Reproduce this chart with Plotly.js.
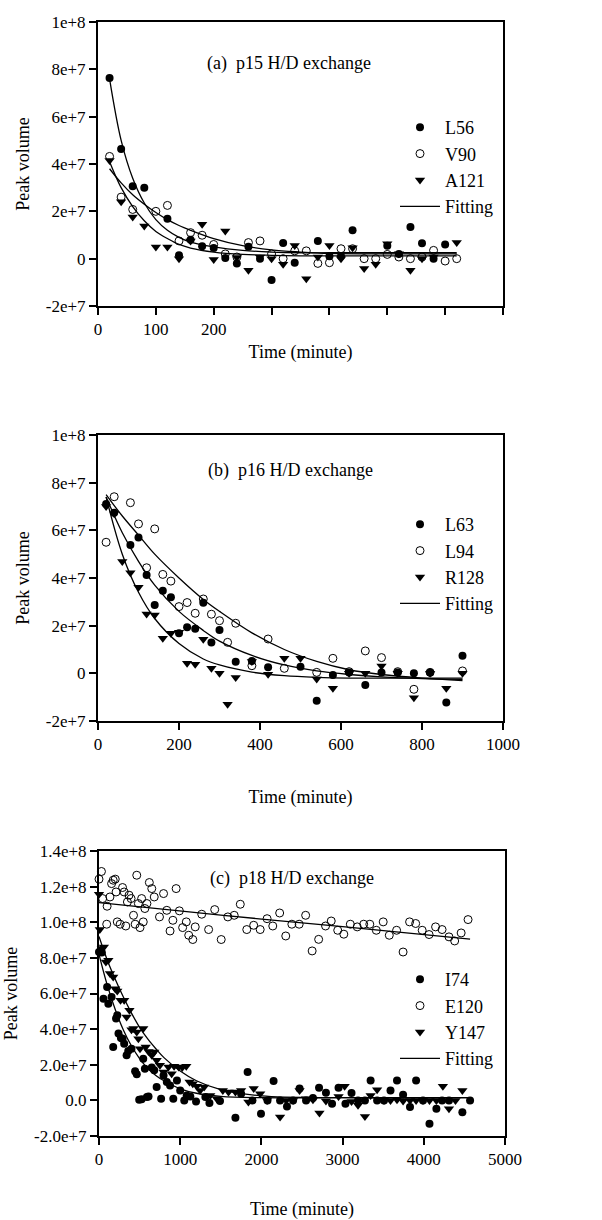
<!DOCTYPE html>
<html><head><meta charset="utf-8">
<script src="https://cdn.plot.ly/plotly-3.0.1.min.js"></script>
<style>body{margin:0;background:#fff}#chart{width:602px;height:1220px}</style>
</head><body><div id="chart"></div>
<script>
// ---- values in units of 1e7 (peak volume) ----
// Panel (a) p15
const timeA = [20,40,60,80,100,120,140,160,180,200,220,240,260,280,300,320,340,360,380,400,420,440,460,480,500,520,540,560,580,600,620];
const L56 = [7.63,4.63,3.06,3.0,null,1.69,0.14,0.8,0.52,0.45,0.03,-0.2,0.5,0.0,-0.9,0.66,-0.17,null,0.75,0.1,0.1,1.2,null,null,0.55,0.2,1.34,0.65,0.0,0.6,null];
const V90 = [4.32,2.6,2.08,null,2.0,2.25,0.75,1.1,0.99,0.6,0.2,0.07,0.68,0.75,0.2,0.0,0.33,0.33,-0.2,-0.17,0.42,0.42,0.0,0.0,0.18,0.07,0.0,0.07,0.35,-0.1,0.0];
const A121 = [4.15,2.4,1.76,1.38,0.49,0.49,0.0,0.75,1.45,-0.03,1.17,0.05,-0.49,0.07,0.0,-0.24,0.56,-0.85,0.07,0.56,0.0,0.46,-0.42,-0.24,0.63,0.21,-0.49,0.0,0.07,null,0.68];
const fitTimeA = [20,40,60,80,100,120,140,160,200,250,300,350,400,500,620];
const fitL56 = [7.6,5.0,3.4,2.35,1.65,1.2,0.9,0.7,0.5,0.35,0.28,0.25,0.25,0.25,0.25];
const fitV90 = [3.8,3.2,2.7,2.3,1.95,1.65,1.4,1.2,0.85,0.55,0.37,0.28,0.22,0.2,0.2];
const fitA121 = [4.1,3.0,2.2,1.6,1.15,0.85,0.6,0.45,0.28,0.18,0.14,0.12,0.12,0.12,0.12];

// Panel (b) p16
const timeB = [20,40,60,80,100,120,140,160,180,200,220,240,260,280,300,320,340,380,420,460,500,540,580,620,660,700,740,780,820,860,900];
const L63 = [7.1,6.74,null,5.38,5.7,4.13,2.87,3.47,3.19,1.68,1.93,1.87,2.96,1.29,1.82,null,0.49,0.52,0.25,null,0.28,-1.15,-0.07,0.03,-0.49,0.03,0.03,0.0,0.03,-1.22,0.74];
const L94 = [5.5,7.41,null,7.16,6.27,4.43,6.06,4.15,3.87,2.8,2.97,2.52,3.12,2.48,2.21,1.3,2.1,0.32,1.44,0.21,null,0.04,0.63,0.07,0.94,0.66,0.07,-0.67,0.04,null,0.1];
const R128 = [7.0,6.7,4.69,4.22,3.61,2.49,2.45,1.47,1.68,1.72,0.42,0.38,1.43,0.21,0.0,-1.3,-0.18,0.5,-0.04,0.63,0.63,-0.24,-0.63,0.0,0.0,0.31,0.0,-1.02,0.0,-0.63,0.0];
const fitTimeB = [20,60,100,140,200,260,300,380,460,540,620,700,800,900];
const fitL63 = [7.4,5.9,4.7,3.7,2.6,1.8,1.35,0.75,0.35,0.1,-0.05,-0.15,-0.22,-0.25];
const fitL94 = [7.5,6.6,5.8,5.0,4.0,3.1,2.6,1.7,1.0,0.5,0.15,-0.05,-0.2,-0.3];
const fitR128 = [7.4,5.0,3.4,2.3,1.25,0.6,0.35,0.05,-0.1,-0.17,-0.2,-0.2,-0.2,-0.2];

// Panel (c) p18
const timeI74 = [0,35,55,100,115,155,175,210,225,240,270,290,310,340,360,400,445,465,495,525,545,565,590,610,650,680,710,765,795,835,875,915,960,1000,1050,1080,1125,1195,1310,1360,1490,1680,1750,1830,1890,1995,2075,2150,2230,2315,2390,2470,2550,2635,2710,2795,2870,2950,3035,3110,3190,3275,3345,3425,3510,3590,3670,3745,3830,3905,3990,4070,4155,4225,4310,4475,4570];
const I74 = [8.33,8.3,5.71,6.37,5.43,5.8,3.0,4.59,4.78,3.75,3.5,3.46,3.18,2.53,2.77,2.9,1.63,1.46,0.04,0.06,2.34,1.78,0.19,0.22,1.84,1.69,0.75,0.09,1.4,1.03,0.84,0.09,1.12,0.56,0.0,0.28,0.22,-0.06,0.19,-0.15,-0.04,-0.97,0.37,1.59,0.0,-0.75,0.0,1.09,0.0,-0.34,0.0,0.66,0.0,0.13,0.71,0.43,-0.19,0.71,-0.19,0.41,0.0,0.0,1.12,0.0,0.0,0.56,1.12,0.32,-0.37,1.12,0.0,-1.31,-0.47,0.0,0.0,-0.66,0.0];
const timeE120 = [0,30,45,95,100,135,155,175,200,210,225,260,290,310,330,350,370,395,425,445,465,485,505,525,545,565,590,620,650,680,745,795,835,875,910,950,990,1030,1075,1105,1155,1185,1265,1350,1425,1505,1587,1665,1740,1820,1905,1985,2070,2140,2225,2300,2375,2465,2545,2625,2705,2790,2860,2940,3015,3095,3180,3260,3335,3415,3500,3575,3665,3745,3825,3900,3980,4065,4145,4225,4310,4380,4460,4545];
const E120 = [12.42,12.85,11.33,9.89,10.9,11.42,12.17,12.36,12.42,11.7,10.02,9.89,11.95,11.7,9.79,11.14,11.52,11.33,10.39,9.89,12.64,11.05,9.7,11.33,10.02,10.77,11.05,12.23,11.89,11.42,10.3,11.61,10.67,9.51,10.11,11.89,10.64,9.7,10.02,9.27,9.03,9.74,10.45,9.59,10.71,9.03,10.3,10.39,11.01,9.59,9.83,9.59,10.2,9.79,10.52,9.23,9.89,9.89,10.39,8.39,9.04,9.79,10.07,9.55,9.33,9.89,9.74,9.89,9.89,9.55,10.02,9.27,9.55,8.33,10.02,9.93,9.55,9.31,9.74,9.59,9.18,8.95,9.4,10.15];
const timeY147 = [0,10,35,60,85,115,135,175,200,225,265,310,340,375,400,425,465,485,505,545,575,610,650,680,710,750,795,855,895,925,980,1025,1075,1115,1155,1205,1245,1295,1370,1450,1525,1595,1680,1750,1840,1905,1985,2070,2230,2305,2390,2470,2550,2635,2715,2795,2950,3025,3110,3190,3275,3345,3425,3510,3590,3670,3745,3830,3905,3990,4070,4155,4235,4310,4390,4475];
const Y147 = [11.57,9.59,8.52,8.61,7.77,7.87,7.12,6.93,6.27,6.14,5.62,5.62,4.68,5.06,3.97,4.03,3.84,3.46,2.9,4.03,3.0,2.75,2.53,2.72,2.25,1.97,1.59,1.87,1.5,1.91,1.87,1.84,1.91,1.03,0.94,0.79,0.56,0.75,0.28,0.09,0.56,0.47,0.47,0.56,-0.09,0.66,0.37,0.0,-0.94,0.0,0.0,0.56,0.09,0.04,-0.71,-0.04,0.22,0.79,-0.06,-0.28,-0.9,0.28,0.6,0.0,0.0,0.04,-0.04,0.0,0.0,0.0,0.0,0.0,0.79,-0.47,0.0,0.56];
const fitTimeC = [0,100,200,300,400,500,600,700,800,1000,1200,1500,2000,3000,4570];
const fitI74 = [8.2,6.5,5.1,3.95,3.05,2.35,1.8,1.4,1.1,0.65,0.4,0.22,0.15,0.15,0.15];
const fitY147 = [9.2,7.9,6.8,5.8,4.9,4.1,3.45,2.9,2.4,1.65,1.1,0.6,0.25,0.15,0.15];
const fitTimeE = [0,1500,3000,4570];
const fitE120 = [11.1,10.4,9.75,9.05];

// tick labels
const yTicksAB = [-2,0,2,4,6,8,10];
const yTextAB = ['-2e+7','0','2e+7','4e+7','6e+7','8e+7','1e+8'];
const yTicksC = [-2,0,2,4,6,8,10,12,14];
const yTextC = ['-2.0e+7','0.0','2.0e+7','4.0e+7','6.0e+7','8.0e+7','1.0e+8','1.2e+8','1.4e+8'];
const xTicksA = [0,100,200,300,400,500,600,700];
const xTextA = ['0','100','200','','','','',''];
const xTicksB = [0,200,400,600,800,1000];
const xTicksC = [0,1000,2000,3000,4000,5000];

const FONT = 'Liberation Serif';
const filled = {symbol:'circle', size:8, color:'#000'};
const open = {symbol:'circle-open', size:8, color:'#000', line:{width:1}};
const tri = {symbol:'triangle-down', size:9, color:'#000'};
const fitLine = {color:'#000', width:1.3};

function pts(x, y, name, marker, xa, ya, lg, grp){
  return {type:'scatter', mode:'markers', x:x, y:y, name:name, marker:marker, xaxis:xa, yaxis:ya, legend:lg, legendgroup:grp, cliponaxis:false};
}
function fit(x, y, xa, ya, lg, show){
  return {type:'scatter', mode:'lines', x:x, y:y, name:'Fitting', line:Object.assign({shape:'spline'}, fitLine), xaxis:xa, yaxis:ya, legend:lg, legendgroup:lg+'fit', showlegend:show};
}

const data = [
  pts(timeA, L56, 'L56', filled, 'x', 'y', 'legend', 'a1'),
  pts(timeA, V90, 'V90', open, 'x', 'y', 'legend', 'a2'),
  pts(timeA, A121, 'A121', tri, 'x', 'y', 'legend', 'a3'),
  fit(fitTimeA, fitL56, 'x', 'y', 'legend', true),
  fit(fitTimeA, fitV90, 'x', 'y', 'legend', false),
  fit(fitTimeA, fitA121, 'x', 'y', 'legend', false),

  pts(timeB, L63, 'L63', filled, 'x2', 'y2', 'legend2', 'b1'),
  pts(timeB, L94, 'L94', open, 'x2', 'y2', 'legend2', 'b2'),
  pts(timeB, R128, 'R128', tri, 'x2', 'y2', 'legend2', 'b3'),
  fit(fitTimeB, fitL63, 'x2', 'y2', 'legend2', true),
  fit(fitTimeB, fitL94, 'x2', 'y2', 'legend2', false),
  fit(fitTimeB, fitR128, 'x2', 'y2', 'legend2', false),

  pts(timeI74, I74, 'I74', filled, 'x3', 'y3', 'legend3', 'c1'),
  pts(timeE120, E120, 'E120', open, 'x3', 'y3', 'legend3', 'c2'),
  pts(timeY147, Y147, 'Y147', tri, 'x3', 'y3', 'legend3', 'c3'),
  fit(fitTimeC, fitI74, 'x3', 'y3', 'legend3', true),
  fit(fitTimeC, fitY147, 'x3', 'y3', 'legend3', false),
  fit(fitTimeE, fitE120, 'x3', 'y3', 'legend3', false)
];

const W = 602, H = 1220;
function yd(top, bottom){ return [1 - bottom/H, 1 - top/H]; }
const axBase = {showline:true, mirror:true, linecolor:'#000', linewidth:2, ticks:'outside', ticklen:7, tickwidth:2, tickcolor:'#000', showgrid:false, zeroline:false, tickmode:'array', tickfont:{family:FONT, size:17, color:'#000'}, fixedrange:true};
function xax(domain, range, tv, tt, anchor, standoff){
  return Object.assign({}, axBase, {domain:domain, range:range, tickvals:tv, ticktext:tt, anchor:anchor,
    title:{text:'Time (minute)', font:{family:FONT, size:18, color:'#000'}, standoff:standoff}});
}
function yax(domain, range, tv, tt, anchor){
  return Object.assign({}, axBase, {domain:domain, range:range, tickvals:tv, ticktext:tt, anchor:anchor,
    title:{text:'Peak volume', font:{family:FONT, size:18, color:'#000'}, standoff:12}});
}
function legend(yTop){
  return {x:395/W, xanchor:'left', y:1 - yTop/H, yanchor:'top', bgcolor:'rgba(0,0,0,0)', borderwidth:0,
    font:{family:FONT, size:18, color:'#000'}, traceorder:'grouped', tracegroupgap:0, itemwidth:40};
}
function label(text, x, y){
  return {text:text, xref:'paper', yref:'paper', x:x/W, y:1-y/H, xanchor:'center', yanchor:'middle', showarrow:false, font:{family:FONT, size:18, color:'#000'}};
}
const xdom = [98/W, 503/W];
const layout = {
  width:W, height:H, margin:{l:0, r:0, t:0, b:0}, paper_bgcolor:'#fff', plot_bgcolor:'#fff', showlegend:true,
  font:{family:FONT, color:'#000'},
  xaxis: xax(xdom, [0,700], xTicksA, xTextA, 'y', 7),
  yaxis: yax(yd(22,306), [-2,10], yTicksAB, yTextAB, 'x'),
  xaxis2: xax(xdom, [0,1000], xTicksB, xTicksB.map(String), 'y2', 37),
  yaxis2: yax(yd(435,721), [-2,10], yTicksAB, yTextAB, 'x2'),
  xaxis3: xax([99/W, 505/W], [0,5000], xTicksC, xTicksC.map(String), 'y3', 36),
  yaxis3: yax(yd(851,1136), [-2,14], yTicksC, yTextC, 'x3'),
  legend: legend(109),
  legend2: legend(506),
  legend3: legend(961),
  annotations: [
    label('(a)  p15 H/D exchange', 289, 63),
    label('(b)  p16 H/D exchange', 290, 470),
    label('(c)  p18 H/D exchange', 292, 878)
  ]
};
Plotly.newPlot('chart', data, layout, {staticPlot:true, displayModeBar:false});
</script>
</body></html>
